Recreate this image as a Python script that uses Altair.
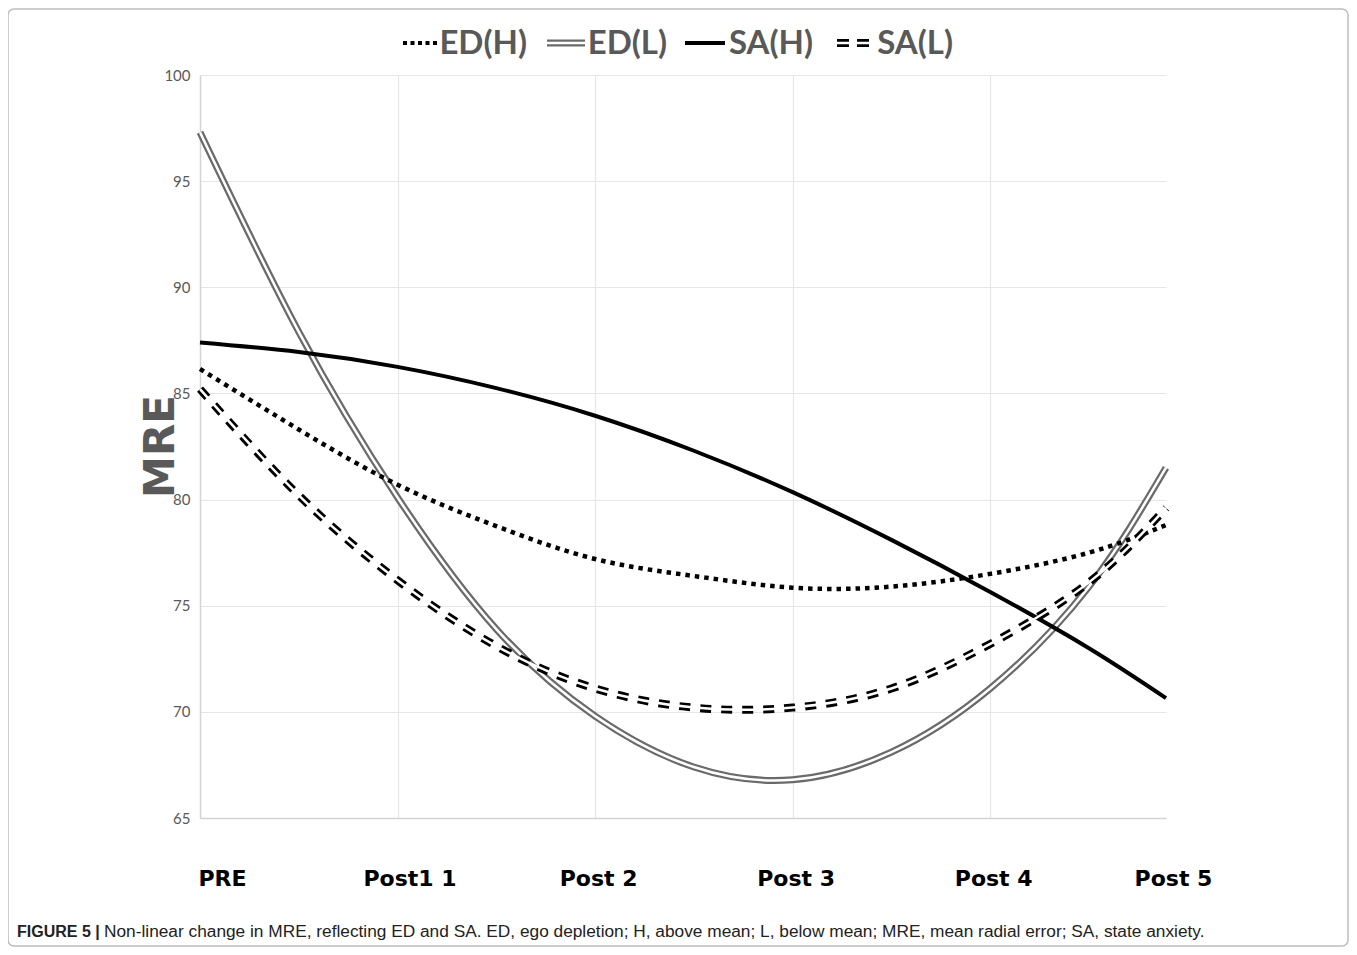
import altair as alt
import pandas as pd

# ---- data ----
time_points = [0, 0.5, 1, 1.5, 2, 2.5, 3, 3.5, 4, 4.5, 4.89]
ed_h = [86.15, 83.3, 80.7, 78.75, 77.2, 76.4, 75.85, 75.9, 76.5, 77.5, 78.8]
ed_l = [97.3, 87.9, 80.1, 73.9, 69.8, 67.4, 66.8, 68.1, 71.1, 75.9, 81.5]
sa_h = [87.4, 86.95, 86.25, 85.25, 83.95, 82.3, 80.35, 78.1, 75.65, 73.0, 70.65]
sa_l = [85.2, 80.2, 76.2, 73.1, 71.1, 70.2, 70.2, 71.1, 73.2, 76.1, 79.6]
series_names = ["ED(H)", "ED(L)", "SA(H)", "SA(L)"]
x_tick_values = [0, 1, 2, 3, 4, 4.89]
x_tick_labels = ["PRE", "Post1 1", "Post 2", "Post 3", "Post 4", "Post 5"]
y_ticks = [65, 70, 75, 80, 85, 90, 95, 100]
caption_bold = "FIGURE 5 |"
caption_text = ("Non-linear change in MRE, reflecting ED and SA. ED, ego depletion; H, above mean; "
                "L, below mean; MRE, mean radial error; SA, state anxiety.")

rows = []
for name, vals in zip(series_names, [ed_h, ed_l, sa_h, sa_l]):
    for t, v in zip(time_points, vals):
        rows.append({"t": t, "value": v, "series": name})
df = pd.DataFrame(rows)
one = pd.DataFrame({"k": [0]})

GRID = "#e6e6e6"
AXIS = "#d4d4d4"
GRAY_TXT = "#595959"

label_expr = ""
for v, lab in zip(x_tick_values[:-1], x_tick_labels[:-1]):
    label_expr += f"datum.value == {v} ? '{lab}' : "
label_expr += f"'{x_tick_labels[-1]}'"

x_axis = alt.Axis(
    values=x_tick_values, labelExpr=label_expr, title=None,
    labelFont="DejaVu Sans", labelFontWeight="bold", labelFontSize=22, labelColor="black",
    labelPadding=50, ticks=False, domainColor=AXIS, domainWidth=1.5,
    gridColor=GRID, gridWidth=1.2,
    gridOpacity={"condition": {"test": "datum.value > 0 && datum.value < 4.5", "value": 1}, "value": 0},
    labelAlign={"condition": {"test": "datum.value == 0", "value": "left"}, "value": "center"},
    labelOffset={"condition": [{"test": "datum.value == 1", "value": 12},
                               {"test": "datum.value > 4.5", "value": 7},
                               {"test": "datum.value == 0", "value": -2}], "value": 3},
    labelFlush=False, labelOverlap=False, labelBound=False,
)
y_axis = alt.Axis(
    values=y_ticks, title="MRE", titleFont="DejaVu Sans", titleFontWeight="bold",
    titleFontSize=42, titleColor=GRAY_TXT, titleAngle=270, titleX=-40, titleY=371,
    titleAlign="center", titleBaseline="middle",
    labelFont="Lato", labelFontSize=15, labelColor=GRAY_TXT, labelPadding=10,
    ticks=False, domainColor=AXIS, domainWidth=1.5, gridColor=GRID, gridWidth=1.2,
)
X = alt.X("t:Q", scale=alt.Scale(domain=[0, 4.89], nice=False, zero=False), axis=x_axis)
Y = alt.Y("value:Q", scale=alt.Scale(domain=[65, 100], nice=False, zero=False), axis=y_axis)

base = alt.Chart(df)


def series_line(name, **kw):
    return base.transform_filter(alt.datum.series == name).mark_line(
        interpolate="natural", **kw).encode(x=X, y=Y)


layers = [
    series_line("ED(L)", color="#6a6a6a", strokeWidth=7),
    series_line("ED(L)", color="white", strokeWidth=2.5),
    series_line("ED(H)", color="black", strokeWidth=4.5, strokeDash=[4.5, 5]),
    series_line("SA(H)", color="black", strokeWidth=4),
    series_line("SA(L)", color="black", strokeWidth=8, strokeDash=[11, 10]),
    series_line("SA(L)", color="white", strokeWidth=2.5),
]

# ---- legend (top, manual) ----
dec = alt.Chart(one)
LY = -32


def seg(x1, x2, **kw):
    return dec.mark_rule(**kw).encode(x=alt.value(x1), x2=alt.value(x2), y=alt.value(LY))


def legend_text(x_end, txt):
    return dec.mark_text(align="right", baseline="middle", font="Lato", fontWeight="bold",
                         fontSize=33, color=GRAY_TXT, text=txt).encode(
        x=alt.value(x_end), y=alt.value(LY + 1))


layers += [
    seg(203, 238, color="black", strokeWidth=4, strokeDash=[4, 3.5]),
    legend_text(327, series_names[0]),
    seg(347, 385, color="#6a6a6a", strokeWidth=7),
    seg(347, 385, color="white", strokeWidth=2.5),
    legend_text(467, series_names[1]),
    seg(485, 525, color="black", strokeWidth=4),
    legend_text(613, series_names[2]),
    seg(637, 675, color="black", strokeWidth=8, strokeDash=[12, 8]),
    seg(637, 675, color="white", strokeWidth=2.5),
    legend_text(753, series_names[3]),
]

# ---- caption and frame ----
layers += [
    dec.mark_text(align="left", baseline="middle", font="Liberation Sans", fontWeight="bold",
                  fontSize=16, color="#222222", text=caption_bold).encode(
        x=alt.value(-183), y=alt.value(857)),
    dec.mark_text(align="left", baseline="middle", font="Liberation Sans",
                  fontSize=17.3, color="#222222", text=caption_text).encode(
        x=alt.value(-96), y=alt.value(857)),
    dec.mark_rect(fillOpacity=0, stroke="#bdbdbd", strokeWidth=1.5, cornerRadius=6).encode(
        x=alt.value(-192), x2=alt.value(1148), y=alt.value(-66), y2=alt.value(871)),
]

chart = alt.layer(*layers).properties(
    width=966, height=743,
    autosize=alt.AutoSizeParams(type="none"),
    padding={"left": 192, "top": 67, "right": 183, "bottom": 129},
    background="white",
).configure_view(stroke=None)

chart.save("out.html", embed_options={"renderer": "svg", "actions": False})
